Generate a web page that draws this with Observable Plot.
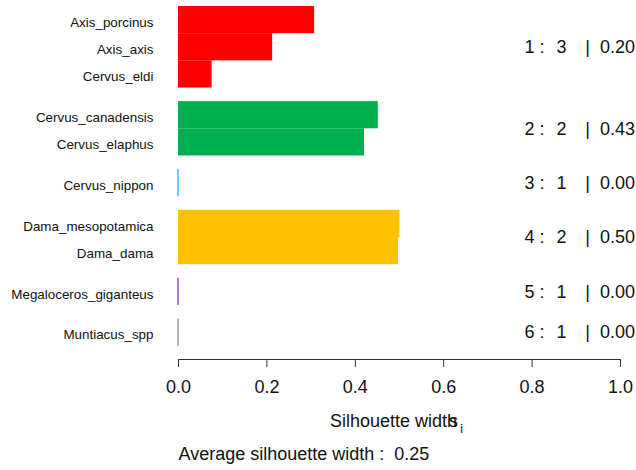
<!DOCTYPE html>
<html><head><meta charset="utf-8">
<script src="https://cdn.jsdelivr.net/npm/d3@7"></script>
<script src="https://cdn.jsdelivr.net/npm/@observablehq/plot@0.6"></script>
<style>body{margin:0;background:#fff;} svg{display:block;}</style>
</head><body><div id="chart"></div>
<script>
const species = ["Axis_porcinus","Axis_axis","Cervus_eldi","Cervus_canadensis","Cervus_elaphus","Cervus_nippon","Dama_mesopotamica","Dama_dama","Megaloceros_giganteus","Muntiacus_spp"];
const speciesCluster = [1,1,1,2,2,3,4,4,5,6];
const silWidth = [0.308,0.213,0.076,0.452,0.421,0.0,0.501,0.498,0.0,0.0];
const clusterIds = [1,2,3,4,5,6];
const clusterSize = [3,2,1,2,1,1];
const clusterAvg = [0.20,0.43,0.00,0.50,0.00,0.00];
const clusterColors = ["#FF0000","#00B050","#00B0F0","#FFC000","#7030A0","#808080"];
const avgWidth = 0.25;
const xTicks = [0,0.2,0.4,0.6,0.8,1.0];
const xLabel = "Silhouette width";

// layout rows: bars of height 1, half-bar gap between clusters
let pos = 0;
const rows = species.map((name,i)=>{
  if (i>0 && speciesCluster[i]!==speciesCluster[i-1]) pos += 0.5;
  const r = {name, cluster:speciesCluster[i], s:silWidth[i], y1:pos, y2:pos+1, ym:pos+0.5};
  pos += 1;
  return r;
});
const total = pos;
const clusters = clusterIds.map((id,k)=>{
  const rs = rows.filter(r=>r.cluster===id);
  const mid = (rs[0].y1 + rs[rs.length-1].y2)/2;
  return {id, mid, n:clusterSize[k], avg:clusterAvg[k]};
});

const ink = "#111";
const chart = Plot.plot({
  width:636, height:470,
  marginLeft:178, marginRight:16, marginTop:6, marginBottom:111,
  style:{fontFamily:"'Liberation Sans', Arial, Helvetica, sans-serif", background:"#fff", color:"#000"},
  x:{domain:[0,1]},
  y:{domain:[0,total], range:[6,345.7], axis:null},
  color:{type:"ordinal", domain:clusterIds, range:clusterColors},
  marks:[
    Plot.rectX(rows, {x1:0, x2:"s", y1:"y1", y2:"y2", fill:"cluster"}),
    Plot.ruleX(rows.filter(r=>r.s===0), {x:0, y1:"y1", y2:"y2", stroke:"cluster", strokeWidth:1.2, dx:-0.5}),
    Plot.text(rows, {x:0, y:"ym", text:"name", textAnchor:"end", dx:-25, dy:2.5, fontSize:13.4, fill:ink}),
    Plot.text(clusters, {x:1, y:"mid", text:d=>`${d.id} :`, textAnchor:"end", dx:-76, fontSize:18, fill:ink}),
    Plot.text(clusters, {x:1, y:"mid", text:"n", textAnchor:"middle", dx:-59, fontSize:18, fill:ink}),
    Plot.text(clusters, {x:1, y:"mid", text:()=>"|", textAnchor:"middle", dx:-33, fontSize:18, fill:ink}),
    Plot.text(clusters, {x:1, y:"mid", text:d=>d.avg.toFixed(2), textAnchor:"end", dx:14.5, fontSize:18, fill:ink}),
    Plot.frame({anchor:"bottom", stroke:"#333"}),
    Plot.axisX(xTicks, {anchor:"bottom", tickSize:8, tickPadding:13, fontSize:18, tickFormat:d3.format(".1f"), label:null, stroke:"#333", fill:ink}),
    Plot.text([xLabel], {x:0.5, frameAnchor:"bottom", dy:67, dx:-6, text:d=>d, fontSize:18, fill:ink}),
    Plot.text(["s"], {x:0.5, frameAnchor:"bottom", dy:67, dx:54, text:d=>d, fontSize:18, fill:ink}),
    Plot.text(["i"], {x:0.5, frameAnchor:"bottom", dy:73, dx:62, text:d=>d, fontSize:12, fill:ink}),
    Plot.text([avgWidth], {x:0, frameAnchor:"bottom", dy:100, textAnchor:"start", text:d=>`Average silhouette width :\u00a0\u00a0${d.toFixed(2)}`, fontSize:18, fill:ink})
  ]
});
document.getElementById("chart").append(chart);
</script>
</body></html>
